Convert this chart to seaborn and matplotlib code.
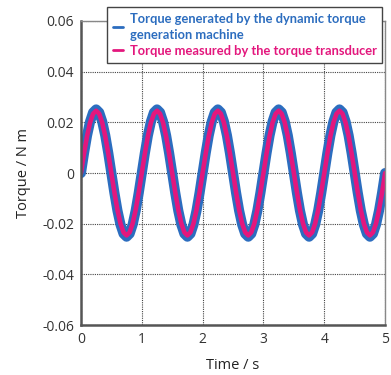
import pandas as pd
import seaborn as sns
import matplotlib.pyplot as plt

# time axis, 0.05 s steps (1 Hz oscillation)
time_s = [round(i * 0.05, 2) for i in range(101)]

# torque per cycle (N m), sampled every 0.05 s
cycle_generated = [0.0, 0.0078, 0.0148, 0.0203, 0.0239, 0.0251, 0.0239, 0.0203, 0.0148, 0.0078,
                   0.0, -0.0078, -0.0148, -0.0203, -0.0239, -0.0251, -0.0239, -0.0203, -0.0148, -0.0078]
cycle_measured = [0.0, 0.0076, 0.0145, 0.0199, 0.0234, 0.0246, 0.0234, 0.0199, 0.0145, 0.0076,
                  0.0, -0.0076, -0.0145, -0.0199, -0.0234, -0.0246, -0.0234, -0.0199, -0.0145, -0.0076]

torque_generated = cycle_generated * 5 + [0.0]
torque_measured = cycle_measured * 5 + [0.0]

label_gen = "Torque generated by the dynamic torque\ngeneration machine"
label_meas = "Torque measured by the torque transducer"

x_ticks = [0, 1, 2, 3, 4, 5]
y_ticks = [-0.06, -0.04, -0.02, 0, 0.02, 0.04, 0.06]
y_labels = ["-0.06", "-0.04", "-0.02", "0", "0.02", "0.04", "0.06"]

df = pd.DataFrame({"t": time_s, "gen": torque_generated, "meas": torque_measured})

sns.set_style("white")
plt.rcParams["font.family"] = ["Open Sans", "DejaVu Sans"]

blue = "#2c6dbf"
pink = "#e3177d"

fig = plt.figure(figsize=(3.91, 3.75), dpi=100)
ax = fig.add_axes([0.207, 0.133, 0.778, 0.811])

sns.lineplot(data=df, x="t", y="gen", ax=ax, color=blue, linewidth=7.3,
             solid_capstyle="round", label=label_gen)
sns.lineplot(data=df, x="t", y="meas", ax=ax, color=pink, linewidth=3.3,
             solid_capstyle="round", label=label_meas)

ax.set_xlim(0, 5)
ax.set_ylim(-0.06, 0.06)
ax.set_xticks(x_ticks)
ax.set_yticks(y_ticks)
ax.set_yticklabels(y_labels)
ax.tick_params(axis="both", labelsize=10, colors="#333333", direction="inout",
               length=4, width=1.2, pad=3)
ax.grid(True, linestyle=(0, (1, 1)), color="#444444", linewidth=0.8)

for side in ["left", "bottom"]:
    ax.spines[side].set_color("#555555")
    ax.spines[side].set_linewidth(1.8)
for side in ["top", "right"]:
    ax.spines[side].set_color("#888888")
    ax.spines[side].set_linewidth(1.0)

ax.set_xlabel("Time / s", fontsize=10.5, color="#222222", labelpad=8)
ax.set_ylabel("Torque / N m", fontsize=10.5, color="#222222", labelpad=8)

leg = ax.legend(loc="upper left", bbox_to_anchor=(0.0855, 1.046), frameon=True,
                fancybox=False, handlelength=0.8, handletextpad=0.5,
                borderpad=0.45, labelspacing=0.32, borderaxespad=0,
                prop={"family": ["Lato", "DejaVu Sans"], "weight": "bold", "size": 9.3})
leg.get_frame().set_edgecolor("#444444")
leg.get_frame().set_linewidth(1.0)
leg.get_frame().set_alpha(1)
leg.set_zorder(5)
for line, text in zip(leg.get_lines(), leg.get_texts()):
    line.set_linewidth(2)
    text.set_color(line.get_color())
    text.set_linespacing(1.4)

fig.savefig("out.png", dpi=100)
